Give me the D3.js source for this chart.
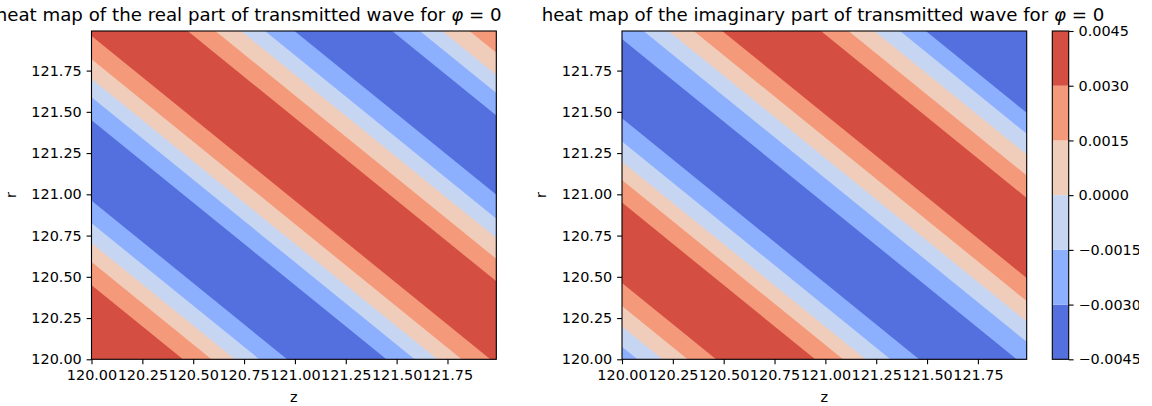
<!DOCTYPE html>
<html>
<head>
<meta charset="utf-8">
<script src="https://cdn.jsdelivr.net/npm/d3@7"></script>
<style>
  html, body { margin: 0; padding: 0; background: #fff; overflow: hidden; }
  svg { display: block; font-family: "DejaVu Sans", sans-serif; }
</style>
</head>
<body>
<svg id="chart" width="1152" height="406"></svg>
<script>
// Contour levels of the field (shared by both panels and the colorbar)
const levels = [-0.0045, -0.0030, -0.0015, 0.0000, 0.0015, 0.0030, 0.0045];
const levelLabels = ["\u22120.0045", "\u22120.0030", "\u22120.0015", "0.0000", "0.0015", "0.0030", "0.0045"];

// Grid extent (z and r from 120 to 121.99)
const zExtent = [120, 121.99];
const rExtent = [120, 121.99];
const zTicks = [120.00, 120.25, 120.50, 120.75, 121.00, 121.25, 121.50, 121.75];
const rTicks = [120.00, 120.25, 120.50, 120.75, 121.00, 121.25, 121.50, 121.75];

// Contour boundaries, given as the value of z + r along each boundary line,
// and the level band (index into levels) that starts at each boundary.
const realEdges = [239.0, 240.45, 240.59, 240.705, 240.825, 240.962, 241.45, 241.589, 241.70, 241.82, 241.961,
                   242.463, 242.599, 242.725, 242.843, 242.988, 243.468, 243.604, 243.713, 243.848];
const realBands = [5, 4, 3, 2, 1, 0, 1, 2, 3, 4, 5, 4, 3, 2, 1, 0, 1, 2, 3, 4];

const imagEdges = [239.0, 240.076, 240.199, 240.323, 240.463, 240.950, 241.087, 241.198, 241.320, 241.461, 241.941,
                   242.096, 242.219, 242.343, 242.483, 242.968, 243.104, 243.231, 243.357, 243.484];
const imagBands = [1, 2, 3, 4, 5, 4, 3, 2, 1, 0, 1, 2, 3, 4, 5, 4, 3, 2, 1, 0];

// coolwarm colours sampled at the middle of each level band
const bandColors = ["#5470de", "#8db0fe", "#c6d6f2", "#f0cdbb", "#f4997a", "#d44e41"];

const svg = d3.select("#chart");
const fontTick = 14.4, fontTitle = 18.2;
const tickLen = 4.9, tickPad = 4.9;

function panel(id, x0, x1, y0, y1, edges, bands, title, titleX, titleAnchor) {
  const xs = d3.scaleLinear().domain(zExtent).range([x0, x1]);
  const ys = d3.scaleLinear().domain(rExtent).range([y1, y0]);
  const g = svg.append("g");

  g.append("clipPath").attr("id", id)
    .append("rect").attr("x", x0).attr("y", y0).attr("width", x1 - x0).attr("height", y1 - y0);

  const fill = g.append("g").attr("clip-path", `url(#${id})`);
  const sEnd = zExtent[1] + rExtent[1] + 1;
  const rLo = rExtent[0] - 0.5, rHi = rExtent[1] + 0.5;
  // each band covers everything from its starting boundary upward; later bands overlay it
  edges.forEach((s0, i) => {
    const pts = [[s0 - rLo, rLo], [s0 - rHi, rHi], [sEnd - rHi + 2, rHi], [sEnd - rLo + 2, rLo]];
    fill.append("path")
      .attr("d", "M" + pts.map(p => `${xs(p[0])},${ys(p[1])}`).join("L") + "Z")
      .attr("fill", bandColors[bands[i]]);
  });

  // axes
  const xAxis = d3.axisBottom(xs).tickValues(zTicks).tickFormat(d3.format(".2f"))
    .tickSizeInner(tickLen).tickSizeOuter(0).tickPadding(tickPad);
  const yAxis = d3.axisLeft(ys).tickValues(rTicks).tickFormat(d3.format(".2f"))
    .tickSizeInner(tickLen).tickSizeOuter(0).tickPadding(tickPad);

  const gx = g.append("g").attr("transform", `translate(0,${y1})`).call(xAxis);
  const gy = g.append("g").attr("transform", `translate(${x0},0)`).call(yAxis);
  [gx, gy].forEach(a => {
    a.select(".domain").remove();
    a.selectAll("line").attr("stroke", "#000").attr("stroke-width", 1.1);
    a.selectAll("text").attr("font-family", "DejaVu Sans").attr("font-size", fontTick).attr("fill", "#000");
  });
  gx.selectAll("text").attr("dy", "0.76em");

  g.append("rect").attr("x", x0).attr("y", y0).attr("width", x1 - x0).attr("height", y1 - y0)
    .attr("fill", "none").attr("stroke", "#000").attr("stroke-width", 1.1);

  // axis labels
  g.append("text").attr("x", (x0 + x1) / 2).attr("y", 402).attr("text-anchor", "middle")
    .attr("font-size", fontTick).text("z");
  g.append("text").attr("transform", `translate(${x0 - 76},${(y0 + y1) / 2}) rotate(-90)`)
    .attr("text-anchor", "middle").attr("font-size", fontTick).text("r");

  // title
  const t = g.append("text").attr("x", titleX).attr("y", 21).attr("text-anchor", titleAnchor)
    .attr("font-size", fontTitle);
  t.append("tspan").text(title + " ");
  t.append("tspan").attr("font-style", "italic").text("\u03c6");
  t.append("tspan").text(" = 0");
}

panel("clipL", 91.5, 496.3, 31, 359.3, realEdges, realBands,
      "heat map of the real part of transmitted wave for", 501.5, "end");
panel("clipR", 622, 1026.7, 31, 359.3, imagEdges, imagBands,
      "heat map of the imaginary part of transmitted wave for", 823, "middle");

// colorbar
const cbX0 = 1052.3, cbX1 = 1068.7, cbY0 = 31, cbY1 = 359.3;
const cs = d3.scaleLinear().domain([levels[0], levels[levels.length - 1]]).range([cbY1, cbY0]);
const cb = svg.append("g");
cb.append("clipPath").attr("id", "clipCb")
  .append("rect").attr("x", 0).attr("y", 0).attr("width", 1139).attr("height", 406);
cb.selectAll("rect.band").data(d3.range(levels.length - 1)).join("rect")
  .attr("class", "band")
  .attr("x", cbX0).attr("width", cbX1 - cbX0)
  .attr("y", i => cs(levels[i + 1])).attr("height", i => cs(levels[i]) - cs(levels[i + 1]))
  .attr("fill", i => bandColors[i]);
const cAxis = d3.axisRight(cs).tickValues(levels).tickFormat((d, i) => levelLabels[i])
  .tickSizeInner(tickLen).tickSizeOuter(0).tickPadding(tickPad);
const gc = cb.append("g").attr("clip-path", "url(#clipCb)")
  .append("g").attr("transform", `translate(${cbX1},0)`).call(cAxis);
gc.select(".domain").remove();
gc.selectAll("line").attr("stroke", "#000").attr("stroke-width", 1.1);
gc.selectAll("text").attr("font-family", "DejaVu Sans").attr("font-size", fontTick).attr("fill", "#000");
cb.append("rect").attr("x", cbX0).attr("y", cbY0).attr("width", cbX1 - cbX0).attr("height", cbY1 - cbY0)
  .attr("fill", "none").attr("stroke", "#000").attr("stroke-width", 1.1);
</script>
</body>
</html>
